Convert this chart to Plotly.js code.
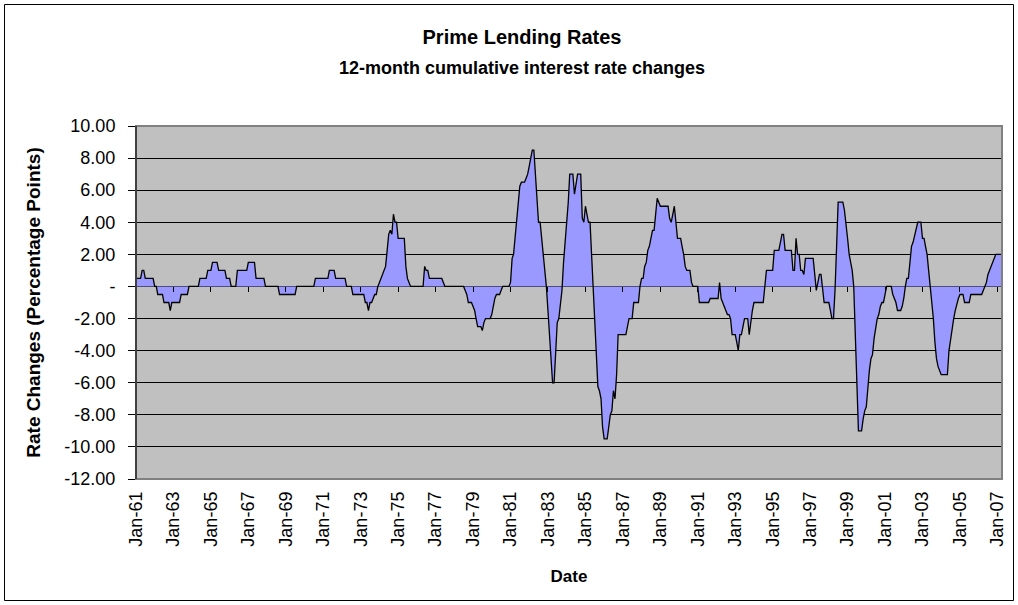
<!DOCTYPE html>
<html>
<head>
<meta charset="utf-8">
<script src="https://cdn.plot.ly/plotly-3.0.1.min.js"></script>
<style>
  html, body { margin: 0; padding: 0; background: #ffffff; }
  #chart { width: 1018px; height: 605px; }
</style>
</head>
<body>
<div id="chart"></div>
<script>
// Monthly 12-month change in the prime lending rate (percentage points),
// starting January 1961, one row per calendar year.
const firstYear = 1961;

const changes1961to1970 = [
  0.5, 0.5, 0.5, 0.5, 1.0, 1.0, 0.5, 0.5, 0.5, 0.5, 0.5, 0.5,
  0, 0, -0.5, -0.5, -0.5, -0.5, -1.0, -1.0, -1.0, -1.0, -1.5, -1.0,
  -1.0, -1.0, -1.0, -1.0, -1.0, -0.5, -0.5, -0.5, -0.5, -0.5, 0, 0,
  0, 0, 0, 0, 0, 0.5, 0.5, 0.5, 0.5, 0.5, 1.0, 1.0,
  1.0, 1.5, 1.5, 1.5, 1.5, 1.0, 1.0, 1.0, 1.0, 1.0, 0.5, 0.5,
  0.5, 0, 0, 0, 0, 1.0, 1.0, 1.0, 1.0, 1.0, 1.0, 1.0,
  1.5, 1.5, 1.5, 1.5, 1.5, 0.5, 0.5, 0.5, 0.5, 0.5, 0.5, 0,
  0, 0, 0, 0, 0, 0, 0, 0, -0.5, -0.5, -0.5, -0.5,
  -0.5, -0.5, -0.5, -0.5, -0.5, -0.5, -0.5, 0, 0, 0, 0, 0,
  0, 0, 0, 0, 0, 0, 0, 0.5, 0.5, 0.5, 0.5, 0.5
];

const changes1971to1980 = [
  0.5, 0.5, 0.5, 0.5, 1.0, 1.0, 1.0, 1.0, 0.5, 0.5, 0.5, 0.5,
  0.5, 0.5, 0.5, 0, 0, 0, 0, -0.5, -0.5, -0.5, -0.5, -0.5,
  -0.5, -0.5, -0.5, -1.0, -1.0, -1.5, -1.0, -1.0, -0.75, -0.5, -0.5, 0,
  0.25, 0.5, 0.75, 1.0, 1.25, 2.25, 3.25, 3.5, 3.25, 4.5, 4.0, 4.0,
  3.0, 3.0, 3.0, 3.0, 3.0, 1.25, 0.5, 0.25, 0, 0, 0, 0,
  0, 0, 0, 0, 0, 1.25, 1.0, 1.0, 0.5, 0.5, 0.5, 0.5,
  0.5, 0.5, 0.5, 0.5, 0.5, 0.25, 0, 0, 0, 0, 0, 0,
  0, 0, 0, 0, 0, 0, 0, -0.25, -0.5, -1.0, -1.0, -1.0,
  -1.25, -1.5, -2.0, -2.5, -2.5, -2.5, -2.75, -2.25, -2.0, -2.0, -2.0, -2.0,
  -1.75, -1.25, -0.75, -0.5, -0.5, -0.5, -0.25, 0, 0, 0, 0, 0
];

const changes1981to1990 = [
  0.25, 1.75, 2.0, 3.0, 4.0, 5.0, 6.25, 6.5, 6.5, 6.5, 6.75, 7.0,
  7.5, 8.0, 8.5, 8.5, 7.0, 5.25, 4.0, 4.0, 3.0, 2.0, 1.0, 0,
  -1.5, -3.0, -4.75, -6.0, -6.0, -4.0, -2.25, -2.0, -1.0, -0.25, 1.5, 2.75,
  3.75, 5.25, 7.0, 7.0, 7.0, 5.75, 6.5, 7.0, 7.0, 7.0, 4.25, 4.0,
  5.0, 4.5, 4.0, 4.0, 2.0, 0, -2.0, -4.75, -6.25, -6.5, -7.0, -8.75,
  -9.5, -9.5, -9.5, -8.75, -8.0, -7.75, -6.5, -7.0, -5.5, -3.0, -3.0, -3.0,
  -3.0, -3.0, -3.0, -2.5, -2.0, -2.0, -2.0, -1.0, -1.0, -1.0, -1.0, 0,
  0.5, 0.5, 1.25, 1.5, 2.25, 2.5, 3.0, 3.5, 3.5, 4.5, 5.5, 5.25,
  5.0, 5.0, 5.0, 5.0, 5.0, 5.0, 4.25, 4.0, 4.5, 5.0, 4.0, 3.0,
  3.0, 3.0, 2.5, 2.0, 1.25, 1.0, 1.0, 1.0, 0.25, 0, 0, 0
];

const changes1991to2000 = [
  0, -1.0, -1.0, -1.0, -1.0, -1.0, -1.0, -1.0, -0.75, -0.75, -0.75, -0.75,
  -0.75, -0.75, 0.25, -0.75, -1.0, -1.25, -1.5, -1.75, -1.75, -2.0, -3.0, -3.0,
  -3.0, -3.5, -4.0, -3.0, -3.0, -2.5, -2.0, -2.0, -2.0, -3.0, -2.0, -1.5,
  -1.0, -1.0, -1.0, -1.0, -1.0, -1.0, -1.0, 0, 1.0, 1.0, 1.0, 1.0,
  1.0, 2.25, 2.25, 2.25, 2.25, 2.75, 3.25, 3.25, 2.25, 2.25, 2.25, 2.25,
  2.25, 1.0, 1.0, 3.0, 2.0, 2.0, 1.0, 1.0, 0.75, 1.75, 1.75, 1.75,
  1.75, 1.75, 1.75, 0.75, -0.25, 0.25, 0.75, 0.75, 0, -1.0, -1.0, -1.0,
  -1.0, -1.5, -2.0, -2.0, -0.25, 2.5, 5.25, 5.25, 5.25, 5.25, 4.75, 4.0,
  3.0, 2.0, 1.5, 1.0, 0, -3.0, -6.5, -9.0, -9.0, -9.0, -8.25, -7.75,
  -7.5, -6.25, -5.25, -4.5, -4.25, -3.25, -2.5, -2.0, -1.75, -1.25, -1.0, -1.0
];

const changes2001to2007 = [
  -0.5, 0, 0, 0, 0, -0.5, -0.75, -1.0, -1.5, -1.5, -1.5, -1.25,
  -0.75, 0, 0.5, 0.5, 1.75, 2.5, 2.75, 3.25, 3.75, 4.0, 4.0, 4.0,
  3.0, 3.0, 2.5, 2.0, 1.0, 0, -1.0, -2.0, -3.5, -4.5, -5.0, -5.25,
  -5.5, -5.5, -5.5, -5.5, -5.5, -4.0, -3.25, -2.5, -2.0, -1.5, -1.0, -0.75,
  -0.5, -0.5, -0.5, -1.0, -1.0, -1.0, -1.0, -0.5, -0.5, -0.5, -0.5, -0.5,
  -0.5, -0.5, -0.5, -0.25, 0, 0.25, 0.75, 1.0, 1.25, 1.5, 1.75, 2.0,
  2.0, 2.0, 2.0, 2.0
];

const yTickValues = [10, 8, 6, 4, 2, 0, -2, -4, -6, -8, -10, -12];
const yTickLabels = ['10.00', '8.00', '6.00', '4.00', '2.00', '-', '-2.00', '-4.00', '-6.00', '-8.00', '-10.00', '-12.00'];

const rateChanges = [].concat(changes1961to1970, changes1971to1980,
  changes1981to1990, changes1991to2000, changes2001to2007);

// One date per monthly value, first of each month.
const months = rateChanges.map((_, i) => {
  const y = firstYear + Math.floor(i / 12);
  const m = (i % 12) + 1;
  return y + '-' + (m < 10 ? '0' + m : m) + '-01';
});
const firstMonth = months[0];
const lastMonth = months[months.length - 1];

const FONT = 'Liberation Sans, Arial, sans-serif';

// Plot-area box in pixels, used to place the subtitle and the outer frame.
const W = 1018, H = 605;
const M = { l: 136, r: 16, t: 126, b: 126 };
const plotW = W - M.l - M.r, plotH = H - M.t - M.b;
const px2paperX = px => (px - M.l) / plotW;
const px2paperY = py => (H - M.b - py) / plotH;

const area = {
  type: 'scatter',
  mode: 'lines',
  x: months,
  y: rateChanges,
  fill: 'tozeroy',
  fillcolor: '#9999FF',
  line: { color: '#000000', width: 1.3, shape: 'linear' },
  hoverinfo: 'x+y',
  showlegend: false
};

// Carries the category tick marks drawn along the zero line.
const zeroAxisCarrier = {
  type: 'scatter',
  mode: 'lines',
  x: [firstMonth, lastMonth],
  y: [0, 0],
  xaxis: 'x2',
  line: { width: 0, color: 'rgba(0,0,0,0)' },
  hoverinfo: 'skip',
  showlegend: false
};

const layout = {
  width: W,
  height: H,
  margin: M,
  paper_bgcolor: '#ffffff',
  plot_bgcolor: '#C0C0C0',
  showlegend: false,
  font: { family: FONT, color: '#000000' },
  title: {
    text: 'Prime Lending Rates',
    font: { family: FONT, size: 20, weight: 700, color: '#000000' },
    xref: 'container', x: 522 / W, xanchor: 'center',
    yref: 'container', y: 1 - 37 / H, yanchor: 'middle'
  },
  xaxis: {
    type: 'date',
    range: [firstMonth, lastMonth],
    tick0: firstMonth,
    dtick: 'M24',
    tickformat: '%b-%y',
    tickangle: -90,
    ticks: '',
    ticklabelstandoff: 8,
    tickfont: { family: FONT, size: 18, color: '#000000' },
    showgrid: false,
    zeroline: false,
    showline: false,
    title: {
      text: 'Date',
      font: { family: FONT, size: 17, weight: 700, color: '#000000' },
      standoff: 24
    },
    automargin: false,
    fixedrange: true
  },
  xaxis2: {
    type: 'date',
    overlaying: 'x',
    matches: 'x',
    anchor: 'free',
    position: px2paperY(286),
    side: 'bottom',
    tick0: firstMonth,
    dtick: 'M24',
    ticks: 'outside',
    ticklen: 5,
    tickwidth: 1,
    tickcolor: '#000000',
    showticklabels: false,
    showgrid: false,
    zeroline: false,
    showline: false
  },
  yaxis: {
    range: [-12, 10],
    tickvals: yTickValues,
    ticktext: yTickLabels,
    ticks: 'outside',
    ticklen: 7,
    tickwidth: 1,
    tickcolor: '#000000',
    ticklabelstandoff: 9,
    tickfont: { family: FONT, size: 18, color: '#000000' },
    showgrid: true,
    gridcolor: '#000000',
    gridwidth: 1,
    zeroline: false,
    showline: true,
    linecolor: '#000000',
    linewidth: 1,
    title: {
      text: 'Rate Changes (Percentage Points)',
      font: { family: FONT, size: 19, weight: 700, color: '#000000' },
      standoff: 18
    },
    automargin: false,
    fixedrange: true
  },
  annotations: [
    {
      text: '12-month cumulative interest rate changes',
      xref: 'paper', x: px2paperX(522), xanchor: 'center',
      yref: 'paper', y: px2paperY(68), yanchor: 'middle',
      showarrow: false,
      font: { family: FONT, size: 18, weight: 700, color: '#000000' }
    }
  ],
  shapes: [
    // plot-area frame
    {
      type: 'rect', xref: 'paper', yref: 'paper', x0: 0, x1: 1, y0: 0, y1: 1,
      line: { color: '#808080', width: 2 }, fillcolor: 'rgba(0,0,0,0)', layer: 'above'
    },
    // left axis line over the frame
    {
      type: 'line', xref: 'paper', yref: 'paper', x0: 0, x1: 0, y0: 0, y1: 1,
      line: { color: '#000000', width: 1 }, layer: 'above'
    },
    // chart-area border
    {
      type: 'rect', xref: 'paper', yref: 'paper',
      x0: px2paperX(4.5), x1: px2paperX(1013.5),
      y0: px2paperY(600.5), y1: px2paperY(4.5),
      line: { color: '#000000', width: 1 }, fillcolor: 'rgba(0,0,0,0)', layer: 'above'
    }
  ]
};

Plotly.newPlot('chart', [area, zeroAxisCarrier], layout, { staticPlot: true, displayModeBar: false });
</script>
</body>
</html>
